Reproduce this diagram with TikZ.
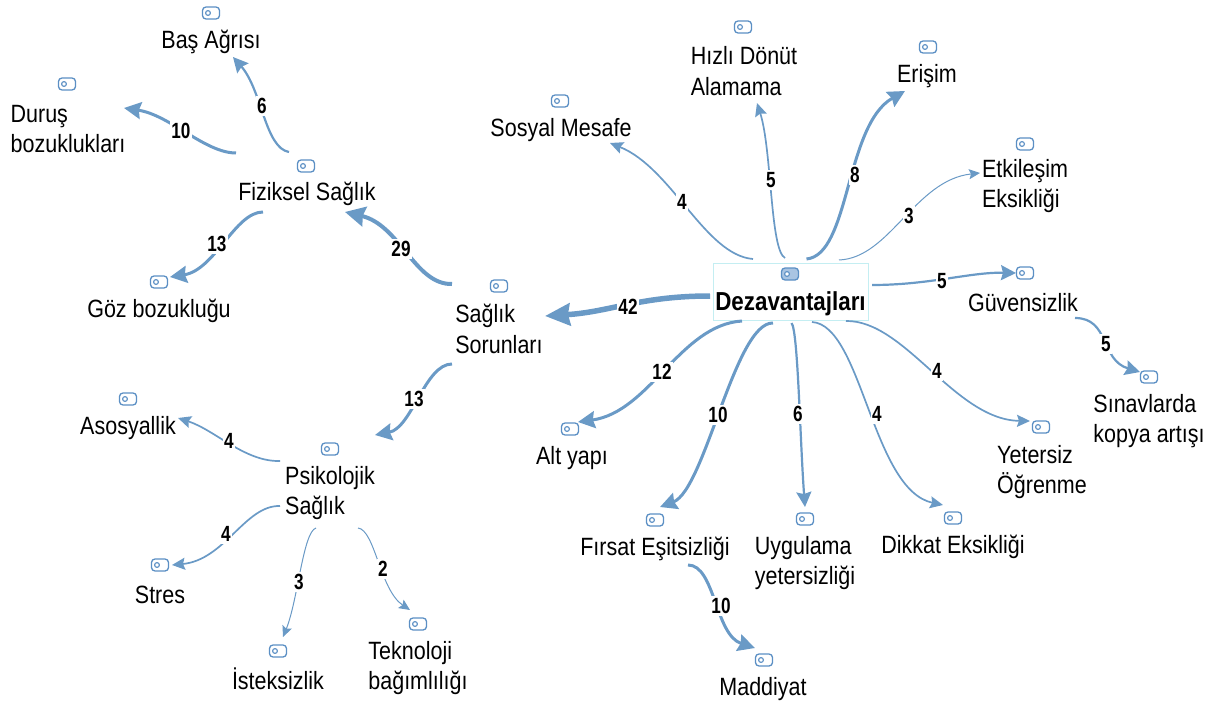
\documentclass[tikz,border=0pt]{standalone}
\usepackage{fontspec}
\setmainfont[FakeStretch=0.86]{Liberation Sans}
\newfontfamily\countfont[FakeStretch=0.78]{Liberation Sans}
\usetikzlibrary{arrows.meta}
\definecolor{edgeblue}{HTML}{6A9AC6}
\definecolor{tagblue}{HTML}{5B8FC4}
\definecolor{tagfill}{HTML}{A9C4E2}
\definecolor{boxcyan}{HTML}{C4EEF2}
\tikzset{
  x=1bp,y=-1bp,
  concept/.style={align=left,inner sep=0pt,font=\fontsize{25bp}{30.5bp}\selectfont},
  count/.style={font=\countfont\bfseries\fontsize{22bp}{22bp}\selectfont,fill=white,inner xsep=1bp,inner ysep=2bp},
  link/.style n args={3}{draw=edgeblue,line width=#1bp,-{Stealth[length=#2bp,width=#3bp,inset=2bp]}},
  xs/.style={link={1}{11}{10}},
  sm/.style={link={1.7}{13}{12}},
  md/.style={link={2.2}{15}{15}},
  lg/.style={link={3}{17}{17}},
  xl/.style={link={4}{20}{20}},
  hg/.style={link={5.5}{25}{22}},
  tag/.pic={
    \draw[tagblue,line width=1.3bp,rounded corners=3.5bp,fill=white] (8.5,-6) -- (-8.5,-6) -- (-8.5,6) -- (8.5,6) -- cycle;
    \draw[tagblue,line width=1.1bp] (-3,0) circle (2.4);
  },
  tagdark/.pic={
    \draw[tagblue,line width=1.3bp,rounded corners=3.5bp,fill=tagfill] (8.5,-6) -- (-8.5,-6) -- (-8.5,6) -- (8.5,6) -- cycle;
    \draw[tagblue,line width=1.1bp,fill=white] (-3,0) circle (2.4);
  }
}
\newcommand{\conn}[7]{\draw[#1] ([shift={(#3)}]#2.center) .. controls (#4) and (#5) .. ([shift={(#7)}]#6.center);}
\begin{document}
\begin{tikzpicture}
\useasboundingbox (0,0) rectangle (1212,706);
\node[draw=boxcyan,line width=1bp,fill=white,minimum width=155bp,minimum height=57bp,inner sep=0pt] (dez) at (790.5,291.5) {};
\node[inner sep=0pt,font=\bfseries\fontsize{26bp}{28bp}\selectfont] (deztext) at (790.5,304) {Dezavantajları};
\node[concept] (bas) at (211,42) {Baş Ağrısı};
\node[concept] (durus) at (68,129) {Duruş\\bozuklukları};
\node[concept] (fiz) at (307,194) {Fiziksel Sağlık};
\node[concept] (sag) at (499,329) {Sağlık\\Sorunları};
\node[concept] (goz) at (159,311) {Göz bozukluğu};
\node[concept] (aso) at (128,428) {Asosyallik};
\node[concept] (psi) at (330,493) {Psikolojik\\Sağlık};
\node[concept] (stres) at (160,595) {Stres};
\node[concept] (ist) at (278,679) {İsteksizlik};
\node[concept] (tek) at (418,668) {Teknoloji\\bağımlılığı};
\node[concept] (sos) at (561,130) {Sosyal Mesafe};
\node[concept] (hiz) at (744,71) {Hızlı Dönüt\\Alamama};
\node[concept] (eri) at (927,76) {Erişim};
\node[concept] (etk) at (1025,186) {Etkileşim\\Eksikliği};
\node[concept] (guv) at (1023,303) {Güvensizlik};
\node[concept] (sin) at (1149,421) {Sınavlarda\\kopya artışı};
\node[concept] (yet) at (1042,472) {Yetersiz\\Öğrenme};
\node[concept] (dik) at (953,547) {Dikkat Eksikliği};
\node[concept] (uyg) at (805,563) {Uygulama\\yetersizliği};
\node[concept] (fir) at (655,549) {Fırsat Eşitsizliği};
\node[concept] (mad) at (763,689) {Maddiyat};
\node[concept] (alt) at (572,458) {Alt yapı};
\pic at (790,274) {tagdark};
\foreach \p in {(211,13),(67,84),(306,166),(560,101),(743,27),(928,47),(1025,144),(1025,273),(1149,377),(1041,427),(953,518),(805,519),(655,520),(764,660),(570,429),(499,286),(159,282),(128,399),(330,449),(160,565),(278,651),(418,624)}
  \pic at \p {tag};
\conn{hg}{dez}{-80.5,4.5}{640,296}{610,312}{sag}{46,-13}
\conn{sm}{dez}{-37.5,-32.5}{705,255}{672,168}{sos}{49,13}
\conn{sm}{dez}{-5.5,-33.5}{770,250}{772,150}{hiz}{13,32}
\conn{lg}{dez}{16,-32.5}{850,255}{845,125}{eri}{-22,15}
\conn{xs}{dez}{48.5,-31.5}{890,258}{915,180}{etk}{-45,-13}
\conn{md}{dez}{81.5,-6.5}{930,285}{970,272}{guv}{-7,-30}
\conn{md}{guv}{52,15}{1110,318}{1100,360}{sin}{-9,-49}
\conn{sm}{dez}{55.5,29.5}{905,320}{955,420}{yet}{-12,-51}
\conn{sm}{dez}{21.5,30.5}{862,325}{872,490}{dik}{-10,-42}
\conn{md}{dez}{1,31.5}{798,330}{800,440}{uyg}{0,-56}
\conn{lg}{dez}{-17.5,31.5}{735,322}{705,490}{fir}{5,-42}
\conn{lg}{dez}{-48.5,29.5}{680,325}{650,412}{alt}{6,-36}
\conn{lg}{fir}{33,16}{715,565}{715,635}{mad}{-8,-41}
\conn{xl}{sag}{-47,-45}{415,285}{400,225}{fiz}{38,18}
\conn{lg}{sag}{-47,35}{425,364}{412,428}{psi}{45,-58}
\conn{md}{fiz}{-18,-42}{265,148}{262,90}{bas}{22,15}
\conn{lg}{fiz}{-71,-41}{205,153}{170,115}{durus}{56,-21}
\conn{lg}{fiz}{-44,18}{235,212}{215,270}{goz}{11,-34}
\conn{sm}{psi}{-50,-32}{245,462}{215,430}{aso}{50,-10}
\conn{sm}{psi}{-50,13}{245,505}{225,560}{stres}{12,-30}
\conn{xs}{psi}{-14,35}{303,532}{298,600}{ist}{5,-42}
\conn{xs}{psi}{28,35}{375,530}{380,590}{tek}{-8,-58}
\node[count] (n1) at (628,307) {42};
\node[count] (n2) at (682,202) {4};
\node[count] (n3) at (771,180) {5};
\node[count] (n4) at (855,175) {8};
\node[count] (n5) at (909,216) {3};
\node[count] (n6) at (942,281) {5};
\node[count] (n7) at (1106,344) {5};
\node[count] (n8) at (937,371) {4};
\node[count] (n9) at (877,414) {4};
\node[count] (n10) at (798,414) {6};
\node[count] (n11) at (718,415) {10};
\node[count] (n12) at (662,372) {12};
\node[count] (n13) at (721,606) {10};
\node[count] (n14) at (401,249) {29};
\node[count] (n15) at (414,399) {13};
\node[count] (n16) at (262,106) {6};
\node[count] (n17) at (181,131) {10};
\node[count] (n18) at (217,244) {13};
\node[count] (n19) at (229,441) {4};
\node[count] (n20) at (226,534) {4};
\node[count] (n21) at (299,582) {3};
\node[count] (n22) at (383,569) {2};
\end{tikzpicture}
\end{document}
